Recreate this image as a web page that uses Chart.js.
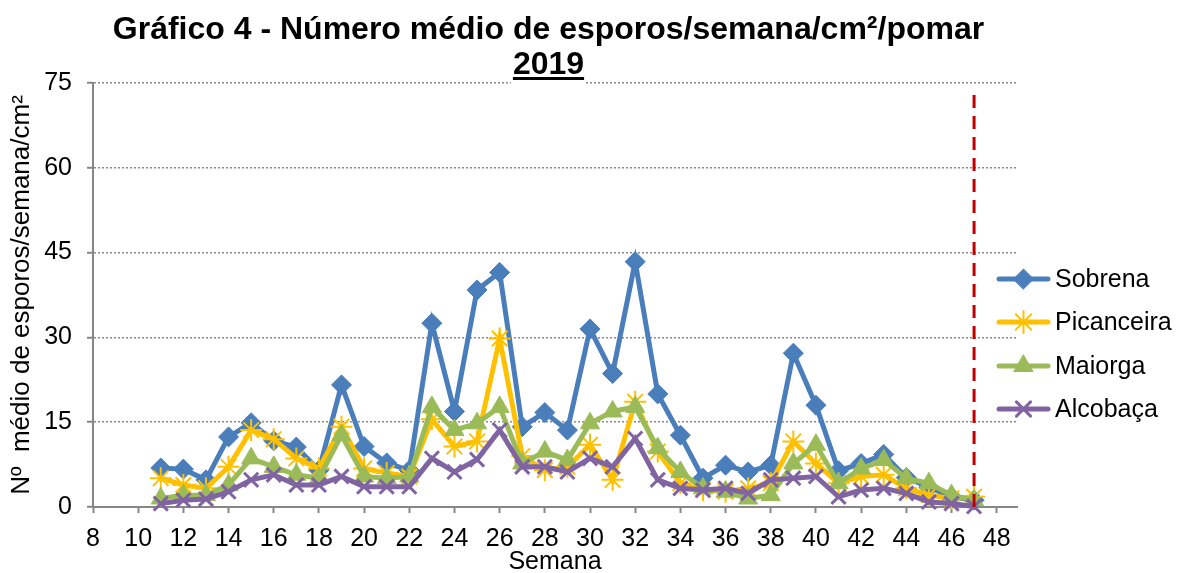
<!DOCTYPE html>
<html lang="pt">
<head>
    <meta charset="UTF-8">
    <title>Gráfico 4</title>
    <script src="https://cdn.jsdelivr.net/npm/chart.js@4.4.0/dist/chart.umd.min.js"></script>
    <style>
        body { margin: 0; background: #fff; }
        #wrap { position: relative; width: 1181px; height: 573px; }
        #myChart { position: absolute; left: 0; top: 0; }
        #titulo {
            position: absolute; left: 0; top: 11px; width: 1097px;
            text-align: center; font: bold 32px "Liberation Sans", Arial, sans-serif;
            line-height: 35px; color: #000; z-index: 2;
        }
        #titulo span {
            background: #fff; padding: 0 2px 5px 2px;
            text-decoration: underline; text-decoration-thickness: 3px; text-underline-offset: 3px;
        }
    </style>
</head>
<body>
    <div id="wrap">
        <div id="titulo">Gráfico 4 - Número médio de esporos/semana/cm²/pomar<br><span>2019</span></div>
        <canvas id="myChart" width="1181" height="573"></canvas>
    </div>
    <script>
        // semanas (eixo x)
        var semanas = [11, 12, 13, 14, 15, 16, 17, 18, 19, 20, 21, 22, 23, 24, 25, 26, 27, 28, 29,
                       30, 31, 32, 33, 34, 35, 36, 37, 38, 39, 40, 41, 42, 43, 44, 45, 46, 47];

        var sobrena    = [6.9, 6.7, 4.8, 12.4, 14.9, 11.7, 10.6, 6.5, 21.6, 10.7, 7.8, 6.5, 32.5, 16.9, 38.4, 41.5, 14.2, 16.7, 13.6,
                          31.5, 23.6, 43.4, 20.0, 12.7, 5.1, 7.4, 6.2, 7.4, 27.2, 18.0, 6.4, 7.7, 9.3, 5.2, 3.5, 1.8, 1.2];
        var picanceira = [5.1, 3.9, 3.3, 7.1, 13.6, 12.0, 8.6, 6.8, 14.2, 6.8, 6.0, 5.4, 15.5, 10.7, 11.6, 29.8, 9.0, 6.5, 7.1,
                          11.0, 4.8, 18.6, 9.8, 4.2, 3.0, 2.7, 3.3, 4.2, 11.6, 7.7, 4.2, 5.4, 5.7, 3.3, 2.1, 1.5, 1.8];
        var maiorga    = [1.5, 2.1, 2.1, 3.9, 8.6, 7.1, 5.7, 5.1, 12.7, 5.4, 5.1, 5.4, 17.7, 13.6, 14.8, 17.7, 7.7, 9.8, 8.3,
                          14.8, 16.9, 17.7, 10.4, 6.2, 3.3, 2.7, 1.5, 2.1, 7.7, 11.0, 4.2, 6.8, 8.3, 5.1, 4.2, 2.1, 1.2];
        var alcobaca   = [0.6, 1.2, 1.4, 2.7, 4.8, 5.7, 3.9, 3.9, 5.4, 3.6, 3.6, 3.6, 8.6, 6.2, 8.4, 13.6, 7.1, 7.1, 6.2,
                          8.6, 7.1, 12.1, 4.8, 3.3, 3.0, 3.3, 2.4, 4.8, 5.1, 5.4, 1.8, 3.0, 3.3, 2.4, 0.9, 0.6, 0.1];

        var nomes = ["Sobrena", "Picanceira", "Maiorga", "Alcobaça"];
        var xTicks = [8, 10, 12, 14, 16, 18, 20, 22, 24, 26, 28, 30, 32, 34, 36, 38, 40, 42, 44, 46, 48];
        var yTicks = [0, 15, 30, 45, 60, 75];

        // linha vertical tracejada (semana 47)
        var linhaSemana = [47, 47];
        var linhaValor = [0, 73.4];

        var f_pontos = function(p_x, p_y){
            var v_pts = [];
            for(var i=0; i<p_x.length; i++) v_pts.push({x: p_x[i], y: p_y[i]});
            return v_pts;
        };

        var f_serie = function(p_set){
            return {
                label: p_set.label,
                data: f_pontos(semanas, p_set.data),
                borderColor: p_set.cor,
                backgroundColor: p_set.cor,
                borderWidth: 5,
                pointStyle: p_set.ponto,
                pointRadius: p_set.raio,
                pointBackgroundColor: p_set.cor,
                pointBorderColor: p_set.cor,
                pointBorderWidth: p_set.esp,
                tension: 0,
                clip: false,
                order: p_set.ordem
            };
        };

        var fonte = '"Liberation Sans", Arial, sans-serif';

        // legenda do lado direito (linha + marcador)
        var legendaLateral = {
            id: 'legendaLateral',
            afterDraw: function(chart){
                var ctx = chart.ctx;
                var linhas = [279, 322, 366, 409];
                for(var i=0; i<nomes.length; i++){
                    var ds = chart.data.datasets[i];
                    var y = linhas[i];
                    ctx.save();
                    ctx.strokeStyle = ds.borderColor;
                    ctx.lineWidth = 5;
                    ctx.lineCap = 'round';
                    ctx.beginPath();
                    ctx.moveTo(999, y);
                    ctx.lineTo(1048, y);
                    ctx.stroke();
                    ctx.fillStyle = ds.pointBackgroundColor;
                    ctx.strokeStyle = ds.pointBorderColor;
                    ctx.lineWidth = ds.pointBorderWidth;
                    Chart.helpers.drawPoint(ctx, {
                        pointStyle: ds.pointStyle, radius: ds.pointRadius,
                        rotation: 0, borderWidth: ds.pointBorderWidth
                    }, 1023.5, y);
                    ctx.fillStyle = '#000';
                    ctx.font = '25px ' + fonte;
                    ctx.textBaseline = 'middle';
                    ctx.textAlign = 'left';
                    ctx.fillText(nomes[i], 1055, y + 1);
                    ctx.restore();
                }
            }
        };

        const ctx = document.getElementById('myChart').getContext('2d');
        const myChart = new Chart(ctx, {
            type: 'line',
            data: {
                datasets: [
                    f_serie({label: nomes[0], data: sobrena,    cor: '#4A7EBB', ponto: 'rectRot',  raio: 10, esp: 1, ordem: 4}),
                    f_serie({label: nomes[1], data: picanceira, cor: '#FFC000', ponto: 'star',     raio: 11, esp: 2, ordem: 3}),
                    f_serie({label: nomes[2], data: maiorga,    cor: '#9BBB59', ponto: 'triangle', raio: 11, esp: 1, ordem: 2}),
                    f_serie({label: nomes[3], data: alcobaca,   cor: '#8064A2', ponto: 'crossRot', raio: 10, esp: 3, ordem: 1}),
                    {
                        label: 'limite',
                        data: f_pontos(linhaSemana, linhaValor),
                        borderColor: '#C00000',
                        borderWidth: 3,
                        borderDash: [13, 8],
                        pointRadius: 0,
                        clip: false,
                        order: 0
                    }
                ]
            },
            options: {
                responsive: false,
                animation: false,
                devicePixelRatio: 1,
                layout: { padding: { top: 83, right: 164, left: 0, bottom: 0 } },
                plugins: {
                    legend: { display: false },
                    tooltip: { enabled: false },
                    title: { display: false }
                },
                scales: {
                    x: {
                        type: 'linear',
                        min: 8,
                        max: 48.9,
                        afterBuildTicks: function(axis){
                            axis.ticks = xTicks.map(function(v){ return {value: v}; });
                        },
                        afterFit: function(axis){ axis.height = 66; },
                        ticks: {
                            autoSkip: false,
                            maxRotation: 0,
                            padding: 11,
                            color: '#000',
                            font: { family: fonte, size: 25 }
                        },
                        grid: {
                            drawOnChartArea: false,
                            drawTicks: true,
                            tickLength: 6,
                            tickColor: '#868686',
                            tickWidth: 2
                        },
                        border: { color: '#868686', width: 2 },
                        title: {
                            display: true,
                            text: 'Semana',
                            color: '#000',
                            padding: { top: 0, bottom: -2 },
                            font: { family: fonte, size: 25, lineHeight: 1 }
                        }
                    },
                    y: {
                        min: 0,
                        max: 75,
                        afterBuildTicks: function(axis){
                            axis.ticks = yTicks.map(function(v){ return {value: v}; });
                        },
                        afterFit: function(axis){ axis.width = 93; },
                        ticks: {
                            padding: 15,
                            color: '#000',
                            font: { family: fonte, size: 25 }
                        },
                        grid: {
                            color: '#8a8a8a',
                            lineWidth: 1.5,
                            drawTicks: true,
                            tickLength: 6,
                            tickColor: '#868686',
                            tickWidth: 2
                        },
                        border: { color: '#868686', width: 2, dash: [2, 2] },
                        title: {
                            display: true,
                            text: 'Nº  médio de esporos/semana/cm²',
                            color: '#000',
                            padding: { top: 9, bottom: 0 },
                            font: { family: fonte, size: 26, lineHeight: 1 }
                        }
                    }
                }
            },
            plugins: [legendaLateral]
        });
    </script>
</body>
</html>
